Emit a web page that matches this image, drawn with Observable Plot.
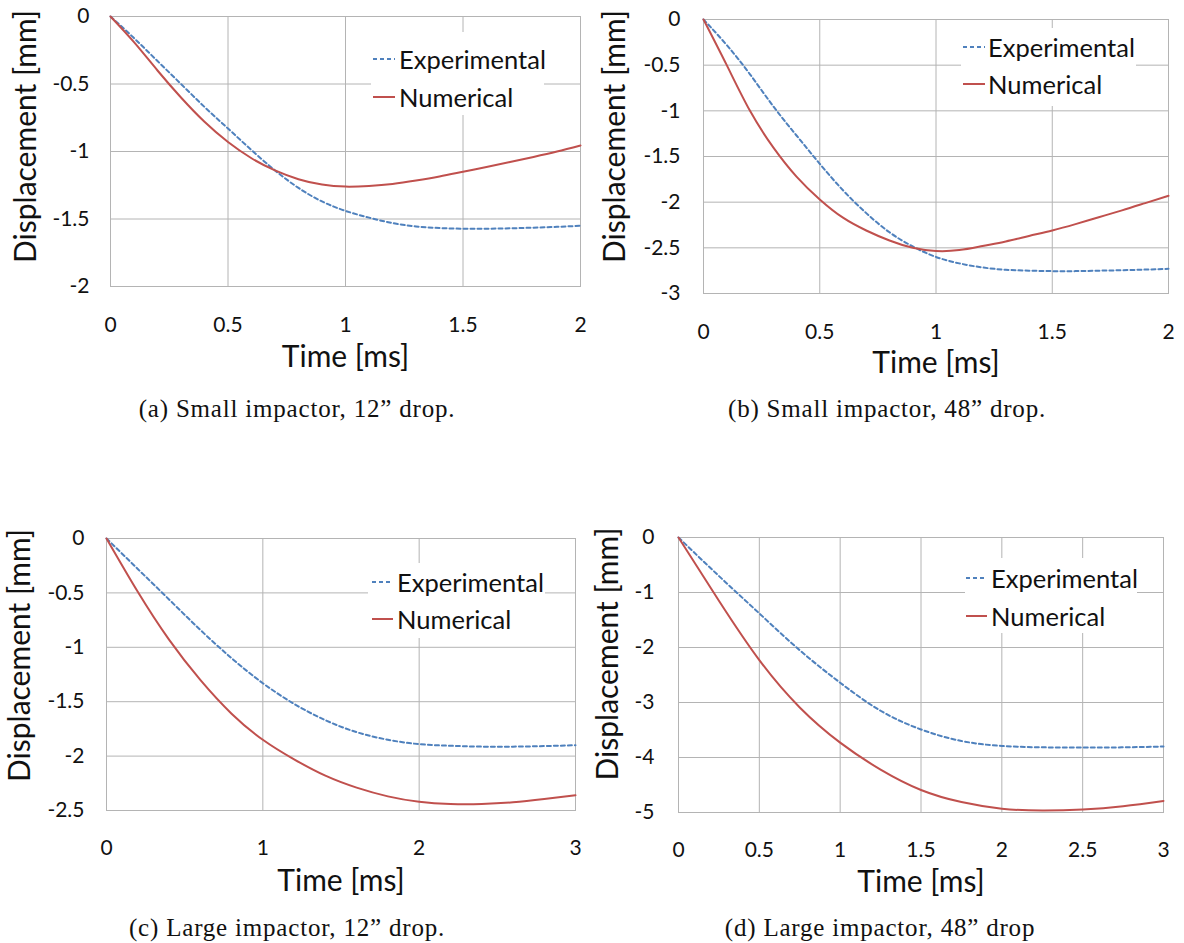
<!DOCTYPE html>
<html>
<head>
<meta charset="utf-8">
<script src="https://cdn.jsdelivr.net/npm/d3@7"></script>
<script src="https://cdn.jsdelivr.net/npm/@observablehq/plot@0.6"></script>
<style>
  html, body { margin: 0; padding: 0; background: #fff; }
  #root { position: relative; width: 1184px; height: 943px; overflow: hidden; background: #fff; }
  .panel { position: absolute; }
  .legend { position: absolute; background: #fff; font-family: Lato, "Open Sans", sans-serif; color: #111; }
  .legend .row { position: absolute; left: 0; height: 34px; display: flex; align-items: center; white-space: nowrap; }
  .legend svg { display: block; }
  .caption { position: absolute; font-family: "Liberation Serif", "DejaVu Serif", serif; color: #111; white-space: nowrap; transform: translate(-50%, -50%); }
</style>
</head>
<body>
<div id="root"></div>
<script>
// ---------------- DATA ----------------
const seriesNames = ["Experimental", "Numerical"];
const xLabel = "Time [ms]";
const yLabel = "Displacement [mm]";
const captions = [
  "(a) Small impactor, 12\u201d drop.",
  "(b) Small impactor, 48\u201d drop.",
  "(c) Large impactor, 12\u201d drop.",
  "(d) Large impactor, 48\u201d drop"
];

// (a) Small impactor, 12" drop
const timeA = [0, 0.1, 0.2, 0.3, 0.4, 0.5, 0.6, 0.7, 0.8, 0.9, 1.0, 1.1, 1.2, 1.3, 1.4, 1.5, 1.6, 1.7, 1.8, 1.9, 2.0];
const expA  = [0, -0.16, -0.33, -0.5, -0.67, -0.83, -0.99, -1.14, -1.27, -1.37, -1.44, -1.49, -1.53, -1.555, -1.567, -1.572, -1.572, -1.569, -1.564, -1.558, -1.55];
const numA  = [0, -0.19, -0.40, -0.60, -0.78, -0.93, -1.05, -1.14, -1.205, -1.245, -1.26, -1.255, -1.24, -1.215, -1.185, -1.15, -1.115, -1.078, -1.04, -1.0, -0.955];
const xTicksA = [0, 0.5, 1, 1.5, 2];
const yTicksA = [0, -0.5, -1, -1.5, -2];

// (b) Small impactor, 48" drop
const timeB = [0, 0.1, 0.2, 0.3, 0.4, 0.5, 0.6, 0.7, 0.8, 0.9, 1.0, 1.1, 1.2, 1.3, 1.4, 1.5, 1.6, 1.7, 1.8, 1.9, 2.0];
const expB  = [0, -0.28, -0.6, -0.95, -1.27, -1.58, -1.87, -2.12, -2.33, -2.485, -2.6, -2.67, -2.715, -2.74, -2.75, -2.755, -2.755, -2.75, -2.745, -2.738, -2.73];
const numB  = [0, -0.5, -1.0, -1.4, -1.72, -1.97, -2.17, -2.31, -2.42, -2.50, -2.535, -2.525, -2.48, -2.43, -2.37, -2.31, -2.24, -2.165, -2.09, -2.01, -1.93];
const xTicksB = [0, 0.5, 1, 1.5, 2];
const yTicksB = [0, -0.5, -1, -1.5, -2, -2.5, -3];

// (c) Large impactor, 12" drop
const timeC = [0, 0.2, 0.4, 0.6, 0.8, 1.0, 1.2, 1.4, 1.6, 1.8, 2.0, 2.2, 2.4, 2.6, 2.8, 3.0];
const expC  = [0, -0.28, -0.56, -0.84, -1.1, -1.33, -1.52, -1.67, -1.78, -1.85, -1.89, -1.905, -1.913, -1.913, -1.908, -1.9];
const numC  = [0, -0.49, -0.93, -1.30, -1.61, -1.85, -2.03, -2.18, -2.29, -2.37, -2.42, -2.44, -2.44, -2.425, -2.395, -2.36];
const xTicksC = [0, 1, 2, 3];
const yTicksC = [0, -0.5, -1, -1.5, -2, -2.5];

// (d) Large impactor, 48" drop
const timeD = [0, 0.25, 0.5, 0.75, 1.0, 1.25, 1.5, 1.75, 2.0, 2.25, 2.5, 2.75, 3.0];
const expD  = [0, -0.7, -1.38, -2.05, -2.64, -3.15, -3.49, -3.7, -3.79, -3.815, -3.82, -3.815, -3.8];
const numD  = [0, -1.15, -2.23, -3.09, -3.73, -4.22, -4.59, -4.81, -4.93, -4.965, -4.945, -4.885, -4.79];
const xTicksD = [0, 0.5, 1, 1.5, 2, 2.5, 3];
const yTicksD = [0, -1, -2, -3, -4, -5];

// ---------------- STYLE / LAYOUT ----------------
const colors = { exp: "#4f81bd", num: "#c0504d", grid: "#b4b4b4", text: "#111" };
const fonts = { sans: "Lato, 'Open Sans', sans-serif" };

const layouts = [
  { left: 0,   top: 0,   width: 600, height: 380, mt: 16, mr: 20, mb: 94, ml: 110,
    xPad: 31, yPad: 21, xlDy: 71, ylDx: -84, ylDy: -15,
    legend: { left: 371, top: 32, width: 173, height: 83, r1: 59, r2: 97, swL: 2, swW: 22, txL: 28 },
    cap: { x: 297, y: 409 } },
  { left: 590, top: 0,   width: 594, height: 380, mt: 19, mr: 16, mb: 87, ml: 113,
    xPad: 31, yPad: 23, xlDy: 70, ylDx: -88, ylDy: -20,
    legend: { left: 961, top: 28, width: 175, height: 78, r1: 47, r2: 84, swL: 2, swW: 22, txL: 27 },
    cap: { x: 887, y: 409 } },
  { left: 0,   top: 500, width: 600, height: 380, mt: 38, mr: 25, mb: 70, ml: 106,
    xPad: 30, yPad: 22, xlDy: 71, ylDx: -86, ylDy: -19,
    legend: { left: 368, top: 563, width: 177, height: 75, r1: 582, r2: 619, swL: 4, swW: 21, txL: 29 },
    cap: { x: 287, y: 928 } },
  { left: 590, top: 500, width: 594, height: 380, mt: 37, mr: 21, mb: 68, ml: 88,
    xPad: 30, yPad: 24, xlDy: 70, ylDx: -70, ylDy: -21,
    legend: { left: 965, top: 558, width: 172, height: 75, r1: 578, r2: 616, swL: 1, swW: 21, txL: 26 },
    cap: { x: 880, y: 928 } }
];

const panels = [
  { time: timeA, exp: expA, num: numA, xTicks: xTicksA, yTicks: yTicksA },
  { time: timeB, exp: expB, num: numB, xTicks: xTicksB, yTicks: yTicksB },
  { time: timeC, exp: expC, num: numC, xTicks: xTicksC, yTicks: yTicksC },
  { time: timeD, exp: expD, num: numD, xTicks: xTicksD, yTicks: yTicksD }
];

const root = document.getElementById("root");
const fmt = d => String(d);

panels.forEach((p, i) => {
  const L = layouts[i];
  const expRows = p.time.map((t, j) => ({ t, v: p.exp[j] }));
  const numRows = p.time.map((t, j) => ({ t, v: p.num[j] }));
  const xDom = [d3.min(p.xTicks), d3.max(p.xTicks)];
  const yDom = [d3.min(p.yTicks), d3.max(p.yTicks)];

  const chart = Plot.plot({
    width: L.width, height: L.height,
    marginTop: L.mt, marginRight: L.mr, marginBottom: L.mb, marginLeft: L.ml,
    style: { fontFamily: fonts.sans, background: "transparent", color: colors.text, overflow: "visible" },
    x: { domain: xDom },
    y: { domain: yDom },
    marks: [
      Plot.gridX(p.xTicks, { stroke: colors.grid, strokeOpacity: 1, strokeWidth: 1 }),
      Plot.gridY(p.yTicks, { stroke: colors.grid, strokeOpacity: 1, strokeWidth: 1 }),
      Plot.frame({ stroke: colors.grid, strokeWidth: 1 }),
      Plot.axisX(p.xTicks, { tickSize: 0, tickPadding: L.xPad, tickFormat: fmt, fontSize: 21, label: null, fill: colors.text }),
      Plot.axisY(p.yTicks, { tickSize: 0, tickPadding: L.yPad, tickFormat: fmt, fontSize: 21, label: null, fill: colors.text }),
      Plot.line(expRows, { x: "t", y: "v", stroke: colors.exp, strokeWidth: 2, strokeDasharray: "4,3", curve: "natural" }),
      Plot.line(numRows, { x: "t", y: "v", stroke: colors.num, strokeWidth: 2, curve: "natural" }),
      Plot.text([xLabel], { text: d => d, frameAnchor: "bottom", lineAnchor: "middle", textAnchor: "middle", dy: L.xlDy, fontSize: 30, fill: colors.text }),
      Plot.text([yLabel], { text: d => d, frameAnchor: "left", lineAnchor: "middle", textAnchor: "middle", rotate: -90, dx: L.ylDx, dy: L.ylDy, fontSize: 30, fill: colors.text })
    ]
  });
  const wrap = document.createElement("div");
  wrap.className = "panel";
  wrap.style.left = L.left + "px";
  wrap.style.top = L.top + "px";
  wrap.appendChild(chart);
  root.appendChild(wrap);

  // legend
  const lg = L.legend;
  const leg = document.createElement("div");
  leg.className = "legend";
  leg.style.left = lg.left + "px";
  leg.style.top = lg.top + "px";
  leg.style.width = lg.width + "px";
  leg.style.height = lg.height + "px";
  [[seriesNames[0], colors.exp, "4,3", lg.r1], [seriesNames[1], colors.num, null, lg.r2]].forEach(([name, col, dash, cy]) => {
    const row = document.createElement("div");
    row.className = "row";
    row.style.top = (cy - lg.top - 17) + "px";
    const svg = d3.create("svg").attr("width", lg.txL).attr("height", 34);
    svg.append("line").attr("x1", lg.swL).attr("x2", lg.swL + lg.swW).attr("y1", 17).attr("y2", 17)
      .attr("stroke", col).attr("stroke-width", 2).attr("stroke-dasharray", dash);
    row.appendChild(svg.node());
    const sp = document.createElement("span");
    sp.textContent = name;
    sp.style.fontSize = "25.5px";
    row.appendChild(sp);
    leg.appendChild(row);
  });
  root.appendChild(leg);

  // caption
  const cap = document.createElement("div");
  cap.className = "caption";
  cap.style.left = L.cap.x + "px";
  cap.style.top = L.cap.y + "px";
  cap.style.fontSize = "25px";
  cap.style.letterSpacing = "0.8px";
  cap.textContent = captions[i];
  root.appendChild(cap);
});
</script>
</body>
</html>
